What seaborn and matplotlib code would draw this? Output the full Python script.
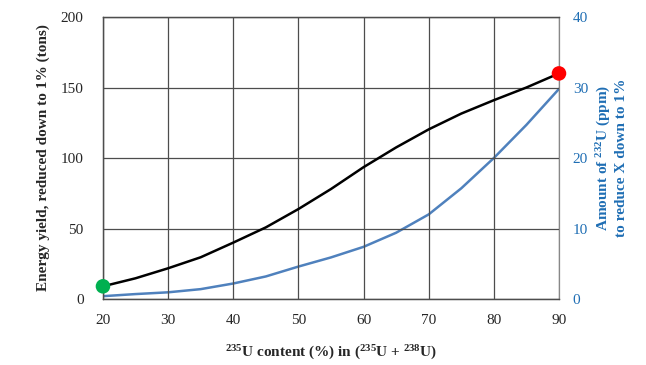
import matplotlib
matplotlib.use("Agg")
import matplotlib.pyplot as plt
import seaborn as sns
import pandas as pd

# Data
u235_content = [20, 25, 30, 35, 40, 45, 50, 55, 60, 65, 70, 75, 80, 85, 90]
energy_yield = [9, 14.7, 21.8, 29.6, 40, 50.8, 63.8, 78, 93.5, 107.5, 120.3, 131.5, 141, 150, 160]
u232_amount = [0.4, 0.7, 0.95, 1.4, 2.2, 3.2, 4.6, 5.9, 7.4, 9.4, 12.0, 15.7, 20.0, 24.7, 29.8]
marker_x = [20, 90]
marker_y = [9, 160]
marker_colors = ["#00B050", "#FF0000"]

sns.set_style("white")
plt.rcParams["font.family"] = ["Liberation Serif", "DejaVu Serif"]
plt.rcParams["mathtext.default"] = "regular"

df = pd.DataFrame({"x": u235_content, "energy": energy_yield, "u232": u232_amount})
dots = pd.DataFrame({"x": marker_x, "y": marker_y, "c": ["start", "end"]})

fig = plt.figure(figsize=(6.46, 3.65), dpi=100)
ax = fig.add_axes([0.1594, 0.1808, 0.7059, 0.7726])
ax2 = ax.twinx()

grid_col = "#4d4d4d"
blue = "#4F81BD"
label_blue = "#1F6EB4"

# blue series on the right axis
sns.lineplot(data=df, x="x", y="u232", ax=ax2, color=blue, linewidth=1.8)
ax2.set_ylim(0, 40)
ax2.set_yticks([0, 10, 20, 30, 40])
ax2.tick_params(axis="y", colors=label_blue, labelsize=11, length=0, pad=10)
ax2.set_ylabel("Amount of $^{232}$U (ppm)\nto reduce X down to 1%", color=label_blue,
               fontsize=11, fontweight="bold", labelpad=5)

# black series on the left axis, drawn on top
ax.set_zorder(ax2.get_zorder() + 1)
ax.patch.set_visible(False)
sns.lineplot(data=df, x="x", y="energy", ax=ax, color="black", linewidth=1.8)
sns.scatterplot(data=dots, x="x", y="y", hue="c", palette=marker_colors, s=110,
                edgecolor="none", ax=ax, legend=False, clip_on=False, zorder=5)

ax.set_xlim(20, 90)
ax.set_ylim(0, 200)
ax.set_xticks(range(20, 91, 10))
ax.set_yticks(range(0, 201, 50))
ax.grid(True, color=grid_col, linewidth=0.9)
ax.tick_params(axis="both", labelsize=11, length=0)
ax.tick_params(axis="x", pad=11)
ax.tick_params(axis="y", pad=14)
ax.set_xlabel("$^{235}$U content (%) in ($^{235}$U + $^{238}$U)", fontsize=11,
              fontweight="bold", labelpad=12)
ax.set_ylabel("Energy yield, reduced down to 1% (tons)", fontsize=11,
              fontweight="bold", labelpad=8)

for a in (ax, ax2):
    for s in a.spines.values():
        s.set_color(grid_col)
        s.set_linewidth(0.9)
ax.spines["right"].set_visible(False)
ax2.spines["right"].set_linestyle((0, (2, 1)))
ax2.spines["right"].set_color("#888888")

fig.savefig("out.png", dpi=100)
